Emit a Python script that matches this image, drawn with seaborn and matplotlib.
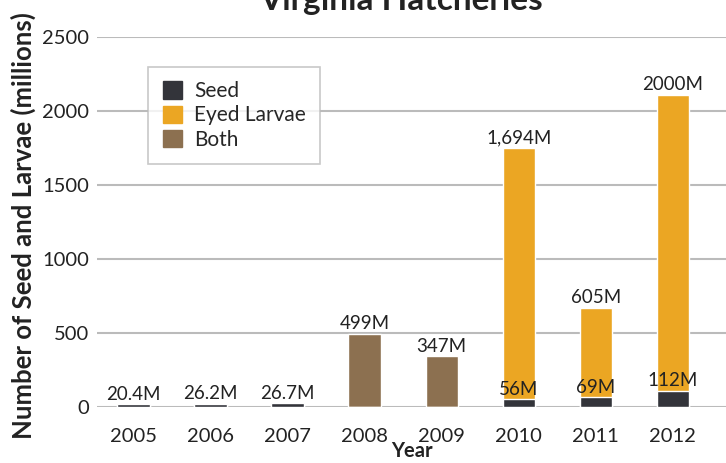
import numpy as np
import pandas as pd
import matplotlib
matplotlib.use("Agg")
import matplotlib.pyplot as plt
import seaborn as sns
from matplotlib.patches import Patch

years = ["2005", "2006", "2007", "2008", "2009", "2010", "2011", "2012"]
seed = [20.4, 26.2, 26.7, 0, 0, 56, 69, 112]
eyed_larvae = [0, 0, 0, 0, 0, 1694, 605, 2000]
both = [0, 0, 0, 499, 347, 0, 0, 0]
top_labels = ["20.4M", "26.2M", "26.7M", "499M", "347M", "1,694M", "605M", "2000M"]
seed_labels = ["", "", "", "", "", "56M", "69M", "112M"]

c_seed = "#33343a"
c_larvae = "#eba623"
c_both = "#8c7050"

sns.set_theme(style="white")
plt.rcParams["font.family"] = ["Lato", "DejaVu Sans"]

df = pd.DataFrame({"Year": years, "Seed": seed, "Larvae": eyed_larvae, "Both": both})
df["SeedLarvae"] = df["Seed"] + df["Larvae"]
df["Total"] = df["SeedLarvae"] + df["Both"]

fig, ax = plt.subplots(figsize=(7.26, 4.63), dpi=100)
fig.subplots_adjust(left=0.134, right=1.0, top=0.92, bottom=0.12)

sns.barplot(data=df, x="Year", y="SeedLarvae", order=years, color=c_larvae,
            width=0.42, saturation=1, ax=ax, zorder=3)
sns.barplot(data=df, x="Year", y="Both", order=years, color=c_both,
            width=0.42, saturation=1, ax=ax, zorder=3)
sns.barplot(data=df, x="Year", y="Seed", order=years, color=c_seed,
            width=0.42, saturation=1, ax=ax, zorder=4)

for i, row in df.iterrows():
    ax.annotate(top_labels[i], (i, row["Total"]), xytext=(0, 1),
                textcoords="offset points", ha="center", va="bottom",
                fontsize=13.5, color="#222222", zorder=5)
    if seed_labels[i]:
        ax.annotate(seed_labels[i], (i, row["Seed"]), xytext=(0, 1),
                    textcoords="offset points", ha="center", va="bottom",
                    fontsize=13.5, color="#222222", zorder=5)

ax.set_ylim(0, 2500)
ax.set_xlim(-0.47, 7.69)
ax.set_yticks([0, 500, 1000, 1500, 2000, 2500])
ax.yaxis.grid(True, color="#bbbbbb", linewidth=1.5, zorder=0)
for s in ax.spines.values():
    s.set_visible(False)
ax.tick_params(axis="both", labelsize=14.5, colors="#222222", length=0)
ax.tick_params(axis="x", pad=15)
ax.tick_params(axis="y", pad=6)
ax.set_xlabel("Year", fontsize=14.5, fontweight="bold", color="#222222", labelpad=-3)
ax.set_ylabel("Number of Seed and Larvae (millions)", fontsize=18.5,
              fontweight="bold", color="#222222")
ax.yaxis.set_label_coords(-0.098, 0.49)

fig.text(0.552, 0.978, "Virginia Hatcheries", ha="center", va="baseline",
         fontsize=24, fontweight="bold", color="#222222")

handles = [Patch(color=c_seed, label="Seed"),
           Patch(color=c_larvae, label="Eyed Larvae"),
           Patch(color=c_both, label="Both")]
leg = ax.legend(handles=handles, loc="upper left", bbox_to_anchor=(0.081, 0.92),
                borderaxespad=0, fontsize=15, frameon=True, fancybox=False,
                edgecolor="#bbbbbb", handlelength=0.9, handleheight=0.9,
                handletextpad=0.6, labelspacing=0.2, borderpad=0.7)
leg.get_frame().set_linewidth(1.2)

fig.savefig("out.png", dpi=100)
